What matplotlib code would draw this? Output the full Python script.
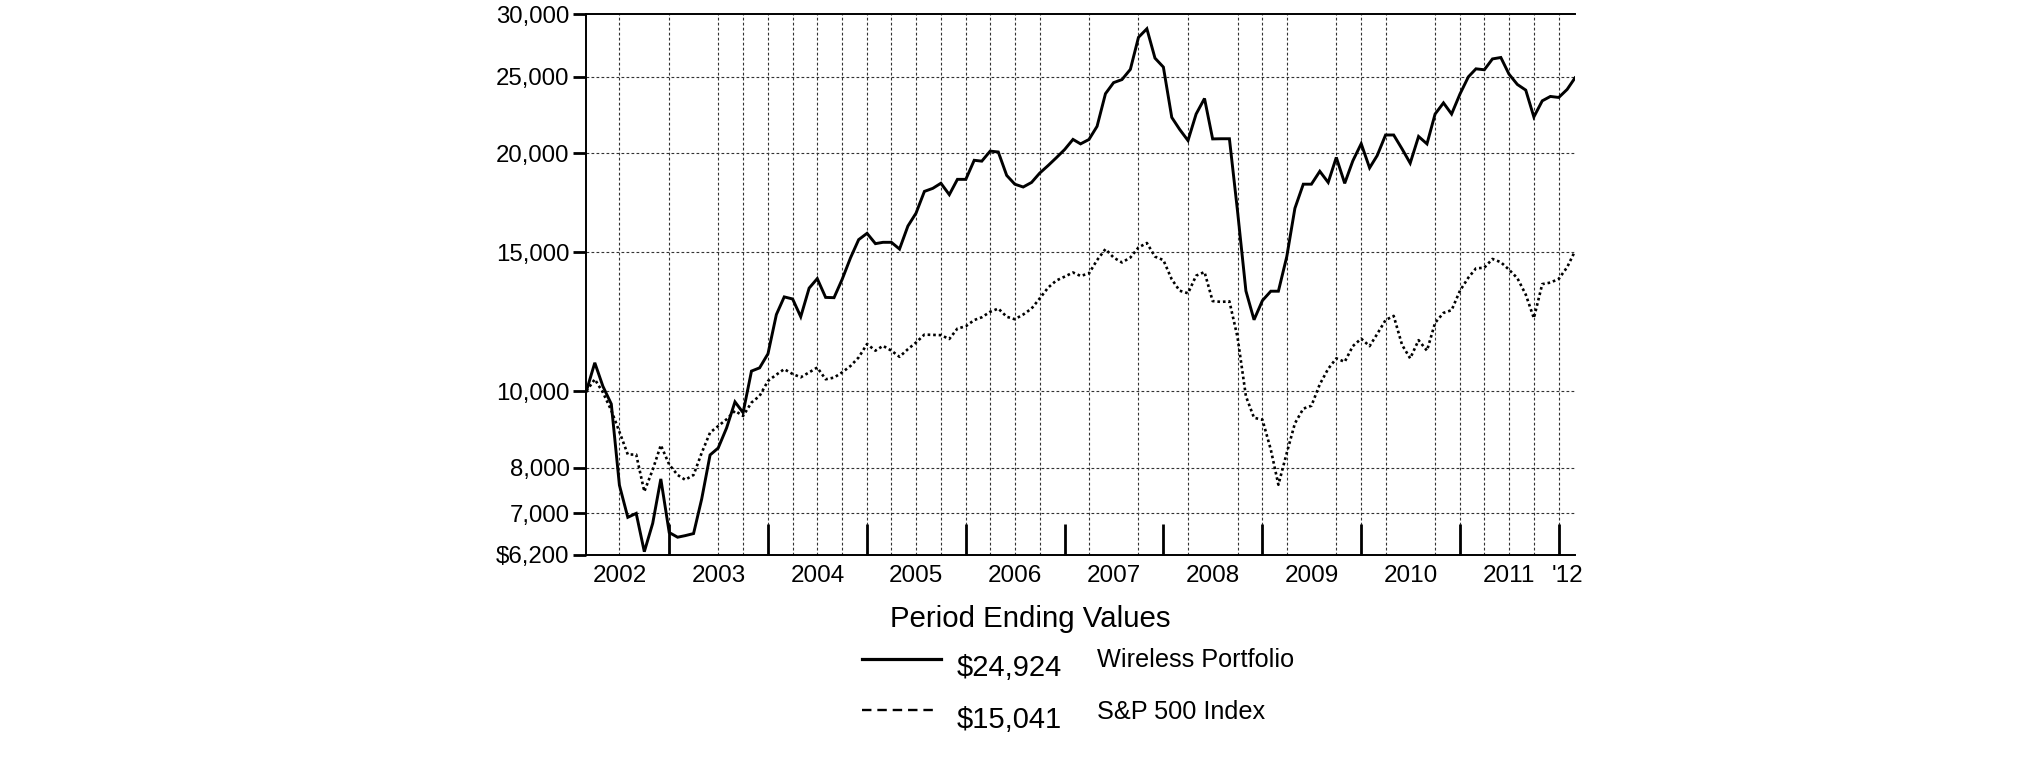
import matplotlib
matplotlib.use('Agg')
import matplotlib.pyplot as plt
import matplotlib.dates as mdates
from matplotlib.lines import Line2D
from matplotlib.ticker import FixedLocator, FixedFormatter, NullLocator
import pandas as pd

plt.rcParams['font.family'] = ['Liberation Sans', 'DejaVu Sans']

# ---------------- data ----------------
dates = pd.date_range(start='2002-03-01', periods=121, freq='MS') - pd.Timedelta(days=1)

wireless = [
    10000, 10860, 10140, 9630, 7600, 6920, 7000, 6260, 6800, 7740,
    6620, 6530, 6560, 6600, 7300, 8300, 8470, 8980, 9690, 9390,
    10600, 10700, 11150, 12500, 13160, 13080, 12420, 13500, 13880, 13140,
    13130, 13850, 14750, 15550, 15840, 15370, 15430, 15430, 15130, 16180,
    16800, 17900, 18060, 18330, 17730, 18540, 18540, 19600, 19550, 20130,
    20080, 18755, 18280, 18130, 18375, 18880, 19300, 19740, 20220, 20830,
    20560, 20825, 21640, 23800, 24580, 24800, 25550, 28050, 28760, 26400,
    25720, 22210, 21450, 20760, 22430, 23470, 20860, 20870, 20870, 16900,
    13390, 12310, 13020, 13380, 13380, 14800, 17040, 18280, 18280, 18980,
    18375, 19765, 18325, 19565, 20570, 19170, 19870, 21100, 21100, 20260,
    19435, 21010, 20560, 22430, 23170, 22430, 23780, 25000, 25590, 25520,
    26340, 26450, 25200, 24450, 24050, 22240, 23310, 23610, 23540, 24100,
    24924,
]

sp500 = [
    10000, 10350, 9960, 9450, 8880, 8310, 8310, 7460, 7950, 8540,
    8070, 7830, 7720, 7830, 8350, 8860, 9030, 9210, 9440, 9300,
    9670, 9860, 10300, 10490, 10660, 10510, 10410, 10560, 10710, 10350,
    10400, 10560, 10760, 11030, 11470, 11250, 11410, 11250, 11050, 11300,
    11520, 11790, 11780, 11770, 11640, 12000, 12080, 12300, 12400, 12600,
    12720, 12420, 12330, 12500, 12720, 13100, 13520, 13800, 13960, 14130,
    13990, 14090, 14650, 15130, 14760, 14550, 14760, 15200, 15400, 14800,
    14650, 13850, 13400, 13300, 14000, 14150, 13000, 12970, 12990, 11700,
    9850, 9250, 9200, 8430, 7610, 8350, 9100, 9500, 9580, 10200,
    10670, 11000, 10890, 11400, 11650, 11400, 11810, 12300, 12450, 11440,
    11000, 11600, 11250, 12200, 12560, 12660, 13400, 13920, 14300, 14330,
    14700, 14560, 14250, 13900, 13250, 12370, 13660, 13720, 13870, 14350,
    15041,
]

y_ticks = [6200, 7000, 8000, 10000, 15000, 20000, 25000, 30000]
y_labels = ['$6,200', '7,000', '8,000', '10,000', '15,000', '20,000', '25,000', '30,000']

year_tick_dates = pd.to_datetime([f'{y}-12-31' for y in range(2002, 2012)])
year_label_dates = pd.to_datetime([f'{y}-07-01' for y in range(2002, 2012)] + ['2012-02-01'])
year_labels = [str(y) for y in range(2002, 2012)] + ["'12"]

grid_dates = pd.to_datetime([
    '2002-06-30', '2002-12-31', '2003-06-30', '2003-09-30', '2003-12-31',
    '2004-03-31', '2004-06-30', '2004-09-30', '2004-12-31', '2005-03-31',
    '2005-06-30', '2005-09-30', '2005-12-31', '2006-03-31', '2006-06-30',
    '2006-09-30', '2007-03-31', '2007-09-30', '2008-03-31', '2008-09-30',
    '2008-12-31', '2009-03-31', '2009-09-30', '2009-12-31', '2010-03-31',
    '2010-09-30', '2010-12-31', '2011-03-31', '2011-06-30', '2011-09-30',
    '2011-12-31',
])

legend_title = 'Period Ending Values'
legend_values = ['$24,924', '$15,041']
legend_names = ['Wireless Portfolio', 'S&P 500 Index']

# ---------------- figure ----------------
W, H = 2025, 761
fig = plt.figure(figsize=(W / 100, H / 100), dpi=100)
fig.patch.set_facecolor('white')

x0, x1, ytop, ybot = 586.4, 1575.0, 14.3, 555.0
ax = fig.add_axes([x0 / W, 1 - ybot / H, (x1 - x0) / W, (ybot - ytop) / H])

ax.set_yscale('log')
ax.set_ylim(6200, 30000)
ax.set_xlim(dates[0], dates[-1])

grid_kw = dict(color='#333333', linewidth=0.8, linestyle=(0, (2.5, 2.0)), zorder=1)
ax.vlines(grid_dates, 6200, 30000, **grid_kw)
ax.hlines([7000, 8000, 10000, 15000, 20000, 25000], dates[0], dates[-1], **grid_kw)

ax.plot(dates, wireless, color='black', linewidth=2.1, solid_joinstyle='miter', zorder=3)
ax.plot(dates, sp500, color='black', linewidth=1.9, linestyle=(0, (1.0, 1.1)), zorder=3)

# y axis
ax.yaxis.set_major_locator(FixedLocator(y_ticks))
ax.yaxis.set_major_formatter(FixedFormatter(y_labels))
ax.yaxis.set_minor_locator(NullLocator())
ax.tick_params(axis='y', which='major', direction='out', length=9.5, width=2.0,
               labelsize=17.3, pad=2.5, colors='black')

# x axis
ax.xaxis.set_major_locator(FixedLocator(mdates.date2num(year_tick_dates)))
ax.xaxis.set_major_formatter(FixedFormatter([''] * len(year_tick_dates)))
ax.xaxis.set_minor_locator(FixedLocator(mdates.date2num(year_label_dates)))
ax.xaxis.set_minor_formatter(FixedFormatter(year_labels))
ax.tick_params(axis='x', which='major', direction='in', length=22.5, width=2.0)
ax.tick_params(axis='x', which='minor', length=0, labelsize=17.5, pad=7)

for s in ['left', 'top', 'bottom']:
    ax.spines[s].set_linewidth(1.4)
    ax.spines[s].set_color('black')
ax.spines['right'].set_visible(False)

# ---------------- legend ----------------
def fx(px):
    return px / W

def fy(py):
    return 1 - py / H

fig.text(fx(1030), fy(627), legend_title, ha='center', va='baseline', fontsize=21.2)

fig.add_artist(Line2D([fx(862), fx(941)], [fy(659), fy(659)], color='black', linewidth=2.3))
fig.add_artist(Line2D([fx(862), fx(938)], [fy(710), fy(710)], color='black', linewidth=1.7,
                      linestyle=(0, (4.0, 2.5))))

fig.text(fx(957), fy(676), legend_values[0], ha='left', va='baseline', fontsize=21)
fig.text(fx(957), fy(728), legend_values[1], ha='left', va='baseline', fontsize=21)
fig.text(fx(1097), fy(667), legend_names[0], ha='left', va='baseline', fontsize=18.2)
fig.text(fx(1097), fy(719), legend_names[1], ha='left', va='baseline', fontsize=18.2)

fig.savefig('out.png', dpi=100, facecolor='white')
